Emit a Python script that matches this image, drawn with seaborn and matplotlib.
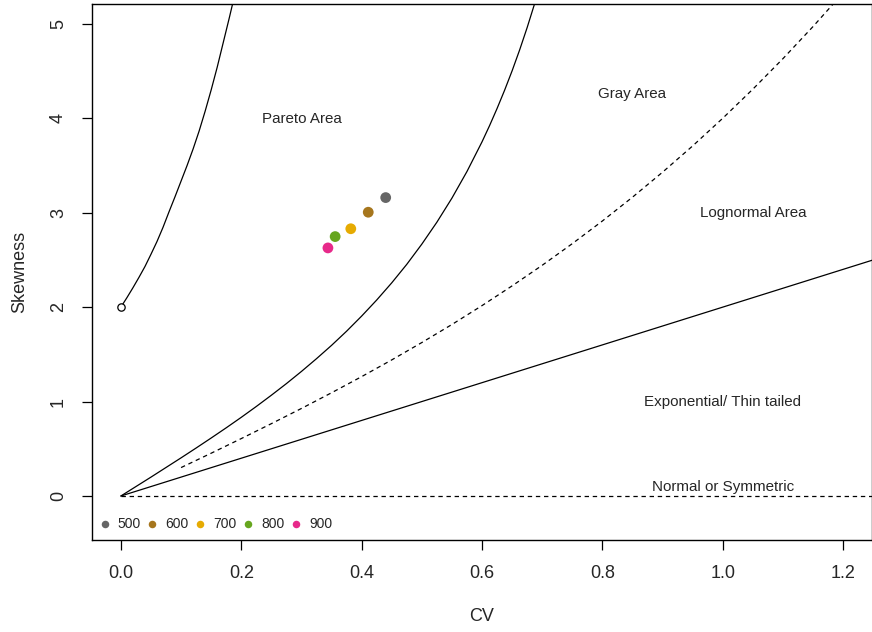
import matplotlib
matplotlib.use("Agg")
import matplotlib.pyplot as plt
import seaborn as sns
import pandas as pd

# ---- data ----
# Pareto boundary (starts at the open circle CV=0, skew=2)
pareto_cv = [0.0, 0.01, 0.02, 0.03, 0.04, 0.05, 0.06, 0.07, 0.08, 0.09, 0.10,
             0.11, 0.12, 0.13, 0.14, 0.15, 0.16, 0.17, 0.18, 0.19]
pareto_sk = [2.00, 2.10, 2.205, 2.315, 2.43, 2.56, 2.695, 2.845, 3.01, 3.17, 3.335,
             3.50, 3.675, 3.865, 4.075, 4.30, 4.54, 4.80, 5.06, 5.33]
# Gray-area boundary (solid, middle)
gray_cv = [0.0, 0.025, 0.05, 0.075, 0.1, 0.125, 0.15, 0.175, 0.2, 0.225, 0.25, 0.275,
           0.3, 0.325, 0.35, 0.375, 0.4, 0.425, 0.45, 0.475, 0.5, 0.525, 0.55, 0.575,
           0.6, 0.6125, 0.625, 0.6375, 0.65, 0.6625, 0.675, 0.6875, 0.7]
gray_sk = [0.0, 0.100, 0.200, 0.302, 0.404, 0.508, 0.614, 0.722, 0.833, 0.948, 1.067, 1.190,
           1.319, 1.454, 1.595, 1.745, 1.905, 2.075, 2.257, 2.453, 2.667, 2.899, 3.154, 3.436,
           3.750, 3.921, 4.103, 4.296, 4.502, 4.723, 4.960, 5.215, 5.490]
# Lognormal line (dashed)
logn_cv = [0.1, 0.15, 0.2, 0.25, 0.3, 0.35, 0.4, 0.45, 0.5, 0.55, 0.6, 0.65, 0.7, 0.75,
           0.8, 0.85, 0.9, 0.95, 1.0, 1.05, 1.1, 1.15, 1.2]
logn_sk = [0.301, 0.453, 0.608, 0.766, 0.927, 1.093, 1.264, 1.441, 1.625, 1.816, 2.016, 2.225,
           2.443, 2.672, 2.912, 3.164, 3.429, 3.707, 4.000, 4.308, 4.631, 4.971, 5.328]
# Exponential / thin tailed line (solid)
expo_cv = [0.0, 1.3]
expo_sk = [0.0, 2.6]
# Normal / symmetric (dashed horizontal)
norm_cv = [0.0, 1.3]
norm_sk = [0.0, 0.0]

# observed points
labels = ["500", "600", "700", "800", "900"]
pt_cv = [0.440, 0.411, 0.382, 0.356, 0.344]
pt_sk = [3.16, 3.005, 2.83, 2.747, 2.627]
colors = ["#666666", "#A6761D", "#E6AB02", "#66A61E", "#E7298A"]

area_labels = ["Pareto Area", "Gray Area", "Lognormal Area", "Exponential/ Thin tailed", "Normal or Symmetric"]
area_x = [0.30, 0.85, 1.05, 1.00, 1.00]
area_y = [3.99, 4.26, 3.00, 1.00, 0.10]

xticks = [0.0, 0.2, 0.4, 0.6, 0.8, 1.0, 1.2]
yticks = [0, 1, 2, 3, 4, 5]

# ---- plotting ----
sns.set_style("ticks")
plt.rcParams["font.family"] = ["Liberation Sans", "DejaVu Sans"]

fig = plt.figure(figsize=(8.72, 6.32), dpi=100)
ax = fig.add_axes([92 / 872, 1 - 540 / 632, 1 - 92 / 872, (540 - 4) / 632])

lw = 0.9
dash = (0, (3.5, 3.0))
sns.lineplot(x=pareto_cv, y=pareto_sk, ax=ax, color="black", lw=lw, sort=False)
sns.lineplot(x=gray_cv, y=gray_sk, ax=ax, color="black", lw=lw, sort=False)
sns.lineplot(x=logn_cv, y=logn_sk, ax=ax, color="black", lw=lw, sort=False, linestyle=dash)
sns.lineplot(x=expo_cv, y=expo_sk, ax=ax, color="black", lw=lw, sort=False)
sns.lineplot(x=norm_cv, y=norm_sk, ax=ax, color="black", lw=lw, sort=False, linestyle=dash)

ax.scatter([pareto_cv[0]], [pareto_sk[0]], s=28, facecolor="white", edgecolor="black", linewidth=0.9, zorder=5)

df = pd.DataFrame({"cv": pt_cv, "sk": pt_sk, "grp": labels})
sns.scatterplot(data=df, x="cv", y="sk", hue="grp", palette=colors, hue_order=labels,
                s=60, edgecolor="none", ax=ax, zorder=6)

for t, x, y in zip(area_labels, area_x, area_y):
    ax.text(x, y, t, ha="center", va="center", fontsize=10.9)

ax.set_xlim(-0.048, 1.248)
ax.set_ylim(-0.466, 5.21)
ax.set_xticks(xticks)
ax.set_xticklabels([f"{v:.1f}" for v in xticks])
ax.set_yticks(yticks)
ax.set_yticklabels([str(v) for v in yticks], rotation=90, va="center")
ax.tick_params(axis="both", direction="out", length=7.5, width=0.9, labelsize=13, pad=10.5, color="black")
ax.set_xlabel("CV", fontsize=13, labelpad=18.5)
ax.set_ylabel("Skewness", fontsize=13, labelpad=16)
for sp in ax.spines.values():
    sp.set_linewidth(1.0)
    sp.set_color("black")

leg = ax.legend(loc="center left", bbox_to_anchor=(0.0, 0.029), ncol=5, frameon=False,
                fontsize=10, handlelength=0.8, handletextpad=0.55, columnspacing=0.42,
                borderaxespad=0.5, borderpad=0.0, markerscale=0.7)

fig.savefig("out.png", dpi=100)
